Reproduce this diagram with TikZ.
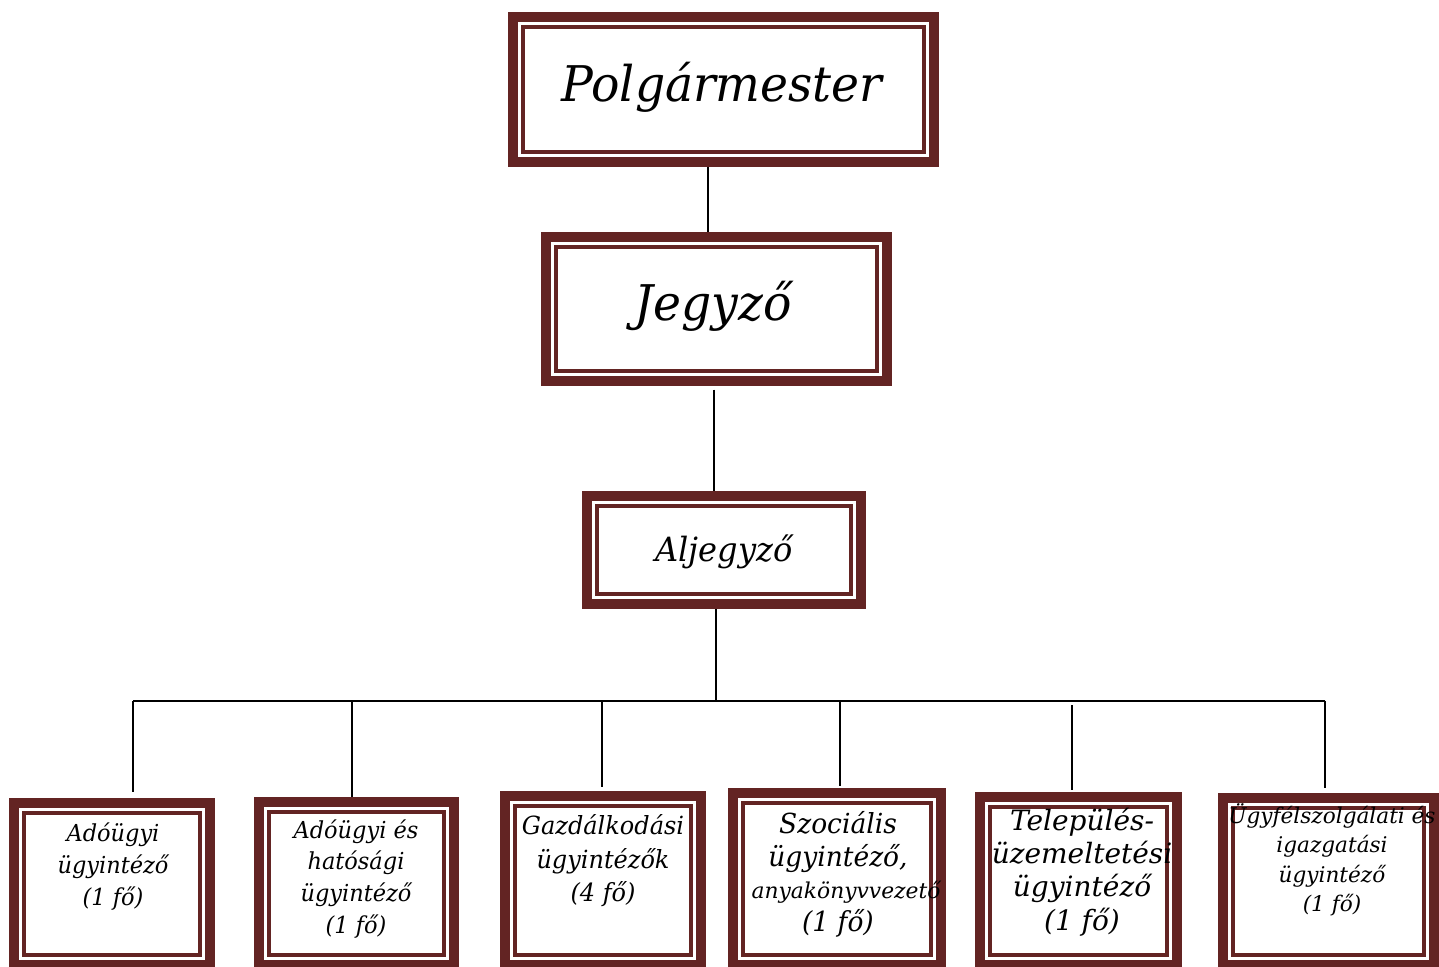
\documentclass[tikz,border=0pt]{standalone}
\usepackage{fontspec}
\newfontfamily\cf{DejaVu Serif}[FakeStretch=0.96]
\newfontfamily\cw{DejaVu Serif}[FakeStretch=1.0]
\usetikzlibrary{calc}
\definecolor{boxred}{RGB}{99,36,35}
\begin{document}
\begin{tikzpicture}[x=0.5pt,y=-0.5pt,
 orgbox/.style={draw=boxred,line width=5pt,rectangle,inner sep=0pt,outer sep=0pt},
 innerln/.style={draw=boxred,line width=2pt},
 conn/.style={draw=black,line width=1pt},
 lbl/.style={anchor=base,align=center,inner sep=0pt}]
\useasboundingbox (0,0) rectangle (1439,966);
\clip (0,0) rectangle (1439,966);
% boxes (outer thick band)
\node[orgbox,minimum width=210.9pt,minimum height=72.5pt] (p) at (723.4,89.2) {};
\node[orgbox,minimum width=170.35pt,minimum height=72pt] (j) at (716.3,308.7) {};
\node[orgbox,minimum width=136.85pt,minimum height=54.15pt] (a) at (724.2,550.2) {};
\node[orgbox,minimum width=98.25pt,minimum height=81.25pt] (b1) at (111.75,883.75) {};
\node[orgbox,minimum width=97.5pt,minimum height=81.5pt] (b2) at (356.5,883.5) {};
\node[orgbox,minimum width=98pt,minimum height=84.75pt] (b3) at (603,880.25) {};
\node[orgbox,minimum width=104pt,minimum height=86pt] (b4) at (837,879) {};
\node[orgbox,minimum width=98.5pt,minimum height=84.25pt] (b5) at (1078.5,880.75) {};
\node[orgbox,minimum width=105.5pt,minimum height=83.75pt] (b6) at (1328.5,881.25) {};
% connectors
\coordinate (abus) at (716,700.5);
\coordinate (t1) at (133,700.5);
\coordinate (t2) at (352,702);
\coordinate (t3) at (601.5,700.5);
\coordinate (t4) at (839.5,700.5);
\coordinate (t5) at (1071.5,705);
\coordinate (t6) at (1325,700.5);
\draw[conn] (708,0 |- p.south) -- (708,0 |- j.north);
\draw[conn] ($(713.5,0 |- j.south)+(0,-4.5pt)$) -- (713.5,0 |- a.north);
\draw[conn] (716,0 |- a.south) -- (abus);
\draw[conn] (t1) -- (t6);
\draw[conn] (t1) -- ($(133,0 |- b1.north)+(0,5.25pt)$);
\draw[conn] (t2) -- ($(352,0 |- b2.north)+(0,2.5pt)$);
\draw[conn] (t3) -- ($(601.5,0 |- b3.north)+(0,4.1pt)$);
\draw[conn] (t4) -- ($(839.5,0 |- b4.north)+(0,3.5pt)$);
\draw[conn] (t5) -- ($(1071.5,0 |- b5.north)+(0,3.25pt)$);
\draw[conn] (t6) -- ($(1325,0 |- b6.north)+(0,4.6pt)$);
% redraw boxes on top of connectors
\foreach \n in {p,j,a,b1,b2,b3,b4,b5,b6}{
  \draw[boxred,line width=5pt] (\n.north west) rectangle (\n.south east);
  \draw[innerln] ([shift={(5pt,-5pt)}]\n.north west) rectangle ([shift={(-5pt,5pt)}]\n.south east);
}
% texts (anchor = baseline of the last line)
\node[lbl,font=\cf\itshape\fontsize{24.6}{30}\selectfont] (pt) at (722,101.7) {Polgármester};
\node[lbl,font=\cf\itshape\fontsize{24.6}{30}\selectfont] (jt) at (713,320) {Jegyző};
\node[lbl,font=\cf\itshape\fontsize{16.7}{20}\selectfont] (at) at (724,561.7) {Aljegyző};
\node[lbl,font=\cf\itshape\fontsize{11.7}{16}\selectfont] (b1t) at (113,905) {Adóügyi\\ügyintéző\\(1 fő)};
\node[lbl,font=\cf\itshape\fontsize{11.7}{15.8}\selectfont] (b2t) at (356,933) {Adóügyi és\\hatósági\\ügyintéző\\(1 fő)};
\node[lbl,font=\cf\itshape\fontsize{12.5}{16.7}\selectfont] (b3t) at (603,901.7) {Gazdálkodási\\ügyintézők\\(4 fő)};
\node[lbl,font=\cf\itshape\fontsize{13.8}{16.4}\selectfont] (b4t) at (838,931.7) {Szociális\\ügyintéző,\\{\cw\itshape\fontsize{10.9}{12}\selectfont\hspace*{8pt}anyakönyvvezető}\\(1 fő)};
\node[lbl,font=\cw\itshape\fontsize{14}{16.6}\selectfont] (b5t) at (1082,930) {Település-\\üzemeltetési\\ügyintéző\\(1 fő)};
\node[lbl,font=\cw\itshape\fontsize{10.8}{14.7}\selectfont] (b6t) at (1332,911.7) {Ügyfélszolgálati és\\igazgatási\\ügyintéző\\(1 fő)};
\end{tikzpicture}
\end{document}
